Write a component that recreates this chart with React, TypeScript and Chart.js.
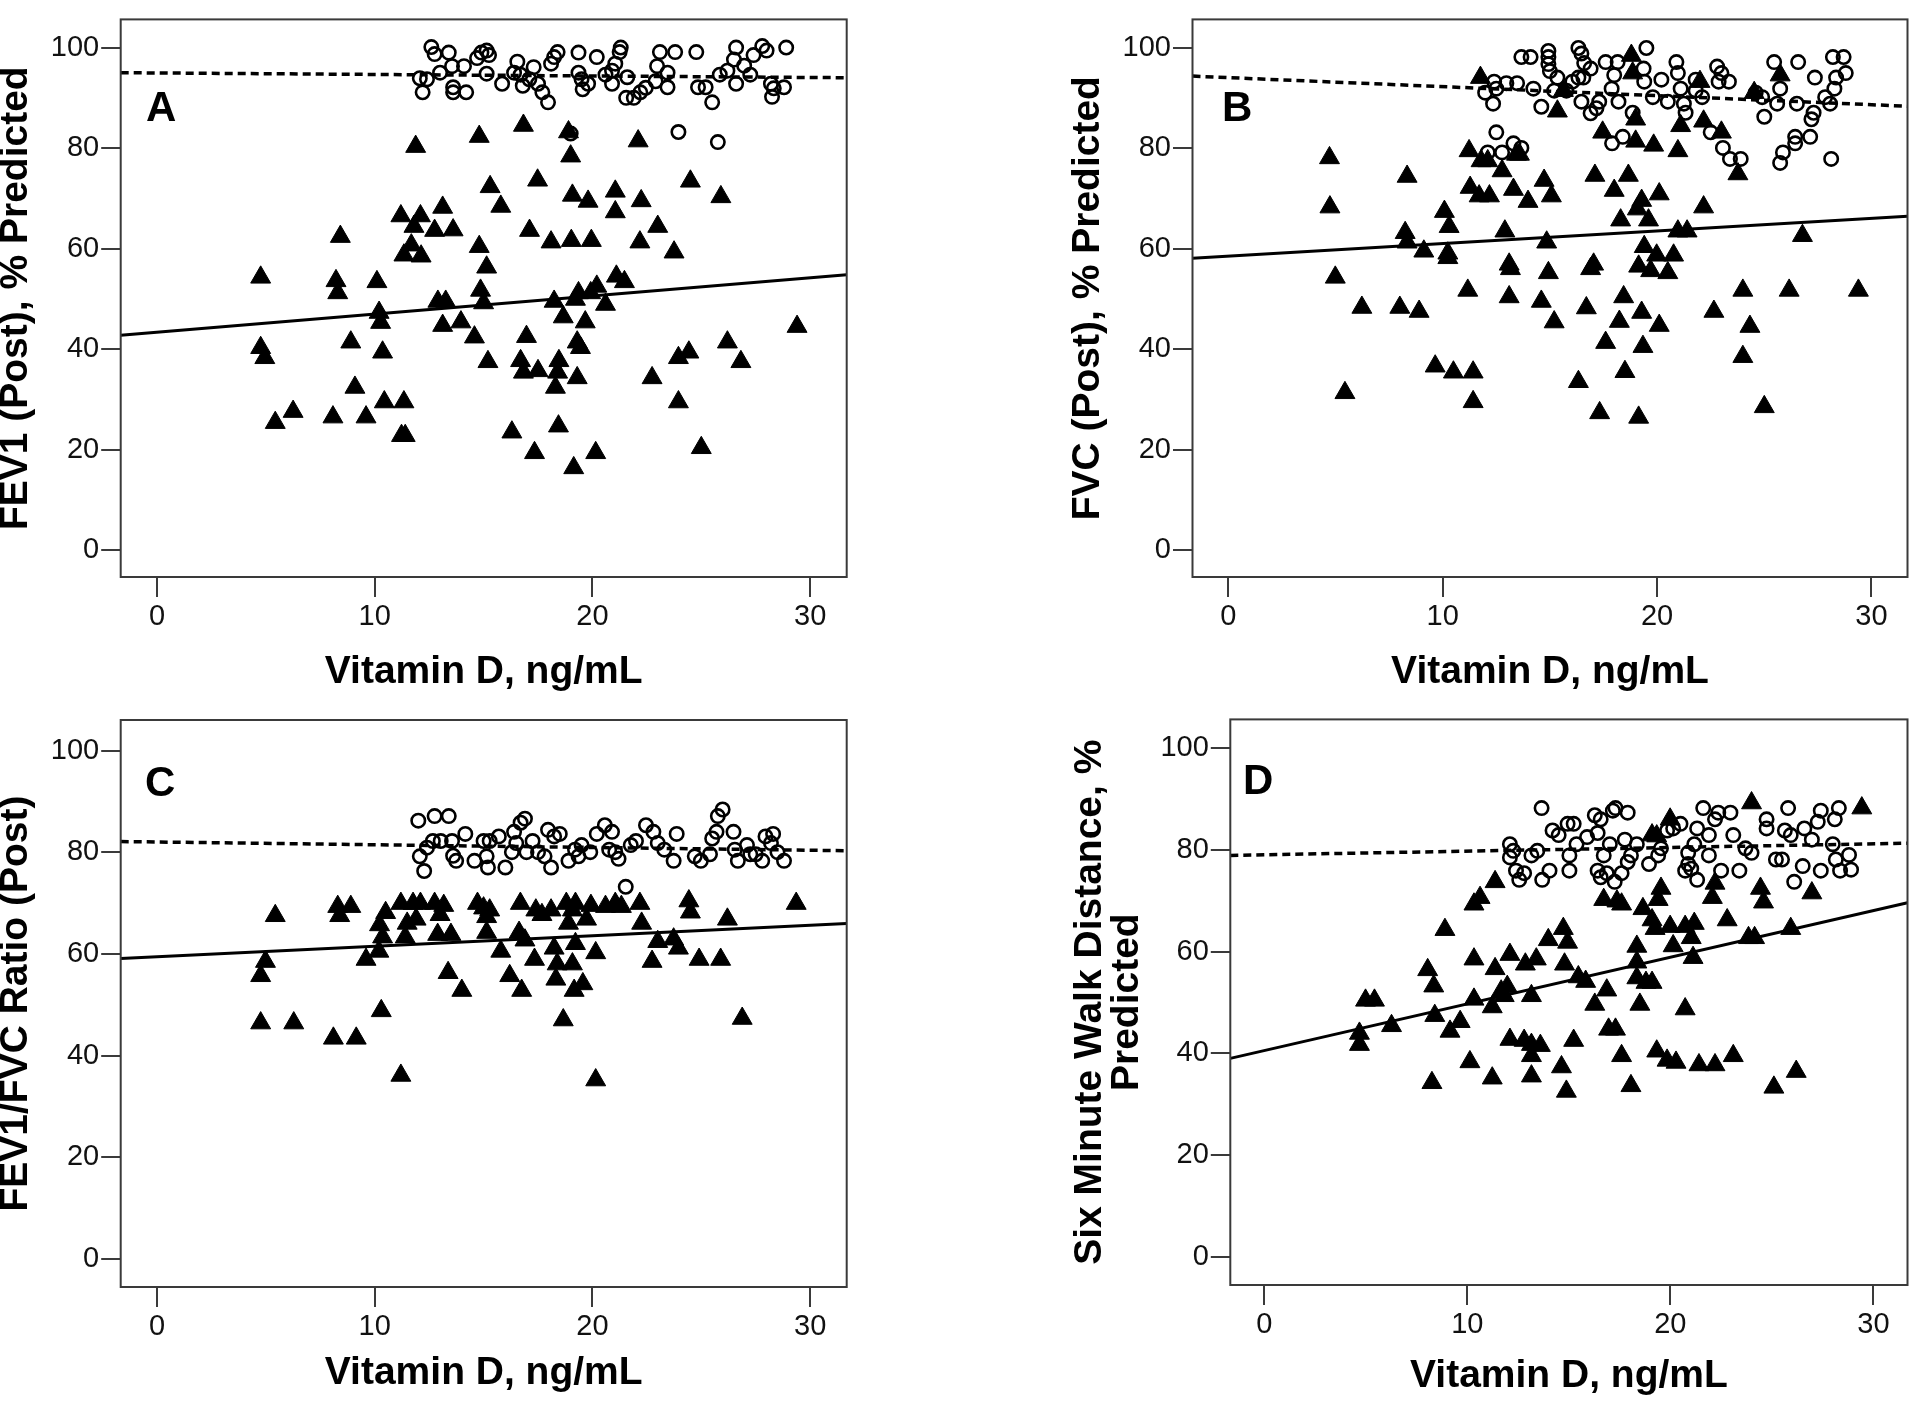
import React, { useEffect, useRef } from 'react';
import { Chart, registerables } from 'chart.js';

Chart.register(...registerables);

// ---------- shared axis data ----------
const xTicks = [0, 10, 20, 30];
const yTicks = [0, 20, 40, 60, 80, 100];
const xAxisTitle = 'Vitamin D, ng/mL';
const xRange = [-1.67, 31.68];

// ---------- Panel A: FEV1 ----------
const aYTitle = 'FEV1 (Post), % Predicted';
const aTriangles: [number, number][] = [
  [4.76, 54.3], [4.76, 40.3], [4.95, 38.3], [5.43, 25.4], [6.25, 27.6], [8.42, 62.4], [8.22, 53.6], [8.3, 51.2],
  [8.9, 41.4], [9.09, 32.4], [8.08, 26.5], [9.6, 26.5], [10.1, 53.4], [10.2, 47.3], [10.27, 45.3], [10.36, 39.4],
  [10.44, 29.5], [11.34, 29.5], [11.23, 22.8], [11.4, 22.8], [11.88, 80.3], [11.2, 66.5], [12.1, 66.5], [11.8, 64.4],
  [11.34, 58.7], [11.68, 60.7], [12.13, 58.5], [13.12, 68.2], [12.75, 63.6], [13.6, 63.7], [12.9, 49.5], [13.26, 49.5],
  [13.12, 44.7], [13.96, 45.4], [14.58, 42.4], [14.8, 60.4], [14.86, 51.7], [15.0, 49.2], [15.14, 56.3], [14.8, 82.3],
  [15.3, 72.3], [15.79, 68.4], [15.2, 37.5], [16.83, 84.5], [17.48, 73.6], [17.11, 63.6], [16.97, 42.5], [16.7, 37.7],
  [16.83, 35.4], [17.5, 35.7], [16.3, 23.5], [17.34, 19.4], [18.1, 61.3], [18.24, 49.5], [18.46, 37.7], [18.4, 35.4],
  [18.3, 32.4], [18.44, 24.7], [18.66, 46.4], [18.9, 83.2], [19.0, 78.4], [19.08, 70.6], [19.03, 61.6], [19.95, 61.6],
  [19.8, 69.4], [19.14, 16.4], [19.22, 49.9], [19.36, 51.2], [19.3, 41.4], [19.45, 40.3], [19.3, 34.3], [19.67, 45.4],
  [19.92, 51.2], [20.15, 19.4], [20.2, 52.5], [20.6, 48.9], [21.05, 71.4], [21.05, 67.3], [21.1, 54.5], [21.47, 53.4],
  [22.1, 81.4], [22.24, 69.5], [22.18, 61.3], [22.74, 34.3], [23.0, 64.4], [23.75, 59.3], [23.95, 38.3], [24.43, 39.4],
  [23.95, 29.5], [24.5, 73.4], [25.0, 20.4], [25.9, 70.3], [26.2, 41.4], [26.82, 37.5], [29.4, 44.5],
];
const aCircles: [number, number][] = [
  [12.6, 100.1], [12.75, 98.7], [13.4, 99], [13.0, 95], [12.07, 93.9], [12.2, 91.1], [12.4, 93.7], [13.6, 92.1],
  [13.6, 91.1], [14.2, 91.1], [13.55, 96.3], [14.1, 96.3], [14.7, 97.9], [14.9, 99], [15.14, 99.4], [15.25, 98.5],
  [15.14, 94.8], [15.85, 92.8], [16.4, 95], [16.55, 97.2], [16.7, 94.6], [16.8, 92.4], [17.1, 93.7], [17.3, 96.1],
  [17.5, 92.8], [17.7, 91.1], [17.96, 89.1], [18.1, 96.8], [18.24, 98.1], [18.4, 99.1], [19.36, 99], [19.36, 95],
  [19.5, 93.7], [19.55, 91.7], [19.8, 92.8], [20.2, 98.1], [20.6, 94.6], [20.9, 95.4], [21.05, 96.8], [21.25, 99.1],
  [21.3, 100], [20.9, 92.8], [21.6, 94.1], [21.55, 90.0], [21.9, 90.0], [22.2, 91.1], [22.45, 92], [22.9, 93.3],
  [23.1, 99.1], [22.97, 96.3], [23.45, 95], [23.45, 92.1], [23.8, 99.1], [23.95, 83.2], [24.77, 99.1], [24.85, 92.1],
  [25.2, 92.1], [25.5, 89.1], [25.76, 81.2], [25.85, 94.6], [26.2, 95.4], [26.5, 97.6], [26.6, 100], [26.6, 92.8],
  [26.97, 96.4], [27.25, 94.6], [27.4, 98.5], [27.8, 100.3], [28.0, 99.4], [28.2, 92.8], [28.25, 90.2], [28.33, 91.9],
  [28.8, 92.1], [28.9, 100], [19.0, 82.9],
];
const aSolidFit = [42.8, 54.8];
const aDashedFit = [95.0, 94.0];

// ---------- Panel B: FVC ----------
const bYTitle = 'FVC (Post), % Predicted';
const bTriangles: [number, number][] = [
  [4.72, 78.1], [4.74, 68.3], [4.99, 54.3], [5.44, 31.3], [6.23, 48.3], [8.0, 48.3], [8.34, 74.4], [8.25, 63.2],
  [8.34, 61.3], [8.9, 47.5], [9.12, 59.5], [9.65, 36.6], [10.08, 67.4], [10.3, 64.4], [10.24, 59.1], [10.24, 58.2],
  [10.5, 35.4], [11.17, 51.7], [11.42, 35.4], [11.42, 29.5], [11.23, 79.5], [11.28, 72.2], [11.7, 70.5], [11.79, 77.5],
  [12.1, 77.5], [12.18, 70.5], [12.77, 75.5], [12.9, 63.5], [13.1, 56.9], [13.16, 56.0], [13.1, 50.4], [13.3, 71.8],
  [13.44, 78.8], [13.58, 78.8], [13.98, 69.4], [11.76, 94.1], [14.73, 73.6], [15.07, 70.5], [14.85, 61.3], [14.93, 55.2],
  [15.2, 45.4], [14.6, 49.5], [15.35, 87.4], [15.63, 91.5], [16.33, 33.5], [16.7, 48.2], [16.9, 56.0], [17.04, 56.9],
  [17.1, 74.6], [17.32, 27.3], [17.6, 41.3], [17.46, 83.2], [18.0, 71.6], [18.3, 65.7], [18.24, 45.5], [18.44, 50.4],
  [18.5, 35.5], [18.66, 74.6], [18.8, 98.5], [19.0, 85.8], [19.0, 81.4], [18.86, 95.0], [19.08, 67.9], [19.28, 69.6],
  [19.14, 56.5], [19.28, 47.3], [19.34, 40.5], [19.14, 26.4], [19.4, 60.4], [19.6, 65.7], [19.7, 55.6], [19.98, 58.7],
  [19.84, 80.6], [20.1, 70.9], [20.1, 44.7], [20.5, 55.2], [20.77, 58.7], [20.97, 79.5], [21.1, 84.5], [20.97, 63.5],
  [21.4, 63.5], [22.17, 68.3], [22.17, 85.4], [22.0, 93.3], [23.0, 83.2], [22.65, 47.5], [23.77, 74.9], [24.0, 51.7],
  [24.0, 38.5], [24.33, 44.5], [24.53, 91.1], [25.0, 28.5], [25.74, 94.6], [26.16, 51.7], [26.78, 62.6], [29.39, 51.7],
];
const bCircles: [number, number][] = [
  [12.1, 79.2], [12.5, 83.2], [12.77, 79.2], [13.3, 81], [13.67, 80.1], [11.98, 91.1], [12.35, 88.9], [12.4, 93.3],
  [12.5, 91.9], [12.97, 93.0], [13.47, 93.0], [13.67, 98.2], [14.1, 98.2], [14.23, 91.9], [14.6, 88.3], [14.93, 99.4],
  [14.93, 98.2], [14.93, 96.8], [15.0, 95.4], [15.2, 91.5], [15.35, 94.1], [15.77, 91.5], [16.05, 93.3], [16.33, 100],
  [16.47, 98.9], [16.33, 94.1], [16.56, 94.1], [16.6, 97], [16.9, 95.9], [16.47, 89.3], [16.9, 87], [17.17, 88],
  [17.3, 89.3], [17.6, 97.2], [17.88, 91.9], [18.0, 94.6], [18.16, 97.2], [18.2, 89.3], [18.4, 82.3], [17.9, 81],
  [18.86, 87.1], [19.37, 95.9], [19.4, 93.3], [19.5, 100], [19.8, 90.2], [20.2, 93.7], [20.5, 89.3], [20.9, 97.2],
  [20.97, 95], [21.1, 91.9], [21.25, 88.9], [21.33, 87.1], [21.8, 93.7], [22.1, 90.2], [21.8, 91.5], [22.5, 83.2],
  [22.8, 96.3], [23.0, 95], [22.87, 93.3], [23.35, 93.3], [23.07, 80.1], [23.4, 77.9], [23.9, 77.9], [24.6, 91.1],
  [24.9, 90.2], [25.0, 86.3], [25.46, 97.2], [25.6, 88.9], [25.74, 77.1], [25.87, 79.2], [25.74, 91.9], [26.58, 97.2],
  [26.52, 88.9], [26.44, 82.3], [26.44, 81], [27.14, 82.3], [27.2, 85.8], [27.3, 87.1], [27.36, 94.1], [27.84, 90.2],
  [28.07, 88.9], [28.12, 77.9], [28.2, 98.2], [28.35, 94.1], [28.27, 91.9], [28.7, 98.2], [28.8, 95],
];
const bSolidFit = [58.1, 66.5];
const bDashedFit = [94.4, 88.4];

// ---------- Panel C: FEV1/FVC ----------
const cYTitle = 'FEV1/FVC Ratio (Post)';
const cTriangles: [number, number][] = [
  [4.76, 55.7], [4.98, 58.5], [4.76, 46.4], [5.43, 67.5], [6.28, 46.4], [8.1, 43.4], [8.3, 69.3], [8.39, 67.5],
  [8.9, 69.3], [9.15, 43.4], [9.6, 58.9], [10.19, 60.5], [10.22, 65.7], [10.36, 63.3], [10.5, 68.1], [10.3, 48.8],
  [11.2, 36.1], [11.2, 69.9], [11.49, 66.0], [11.4, 63.3], [11.76, 69.9], [12.1, 69.9], [11.9, 66.8], [12.75, 69.9],
  [13.0, 67.7], [13.17, 69.5], [12.89, 63.8], [13.5, 63.8], [13.37, 56.3], [14.0, 52.8], [14.72, 69.9], [15.0, 69.0],
  [15.14, 67.3], [15.28, 68.6], [15.14, 64.2], [15.79, 60.5], [16.2, 55.7], [16.69, 69.9], [16.63, 64.2], [16.9, 62.7],
  [16.75, 52.8], [17.34, 58.9], [17.4, 68.6], [17.68, 67.7], [18.1, 68.6], [18.24, 61.1], [18.38, 58.0], [18.32, 55.0],
  [18.66, 47.0], [18.8, 69.9], [19.22, 69.9], [19.08, 68.6], [18.9, 66.0], [19.22, 62.0], [19.08, 58.0], [19.16, 52.8],
  [19.56, 54.1], [19.73, 66.8], [19.93, 69.5], [20.15, 60.2], [20.15, 35.2], [20.6, 69.3], [21.05, 69.9], [21.33, 69.3],
  [22.18, 69.9], [22.26, 66.0], [22.74, 58.5], [23.0, 62.4], [23.73, 62.9], [23.95, 61.1], [24.43, 70.4], [24.5, 68.2],
  [24.9, 58.9], [25.89, 58.9], [26.2, 66.8], [26.88, 47.3], [29.36, 69.9],
];
const cCircles: [number, number][] = [
  [12.0, 86.2], [12.75, 87.1], [13.4, 87.1], [12.07, 79.2], [12.27, 76.3], [12.4, 80.9], [12.67, 82.2], [13.03, 82.2],
  [13.6, 79.3], [13.74, 78.3], [13.55, 82.2], [14.16, 83.6], [14.58, 78.3], [15.0, 82.2], [15.28, 82.2], [15.14, 79.2],
  [15.2, 77.0], [15.7, 83.1], [16.0, 77.0], [16.3, 80.0], [16.4, 84.0], [16.7, 85.8], [16.9, 86.6], [16.5, 81.8],
  [16.97, 80.0], [17.25, 82.2], [17.5, 80.0], [17.8, 79.2], [17.96, 84.4], [18.24, 83.1], [18.1, 77.0], [18.5, 83.6],
  [18.9, 78.3], [19.2, 80.5], [19.36, 79.2], [19.5, 81.4], [19.9, 80.0], [20.2, 83.6], [20.57, 85.3], [20.9, 84.0],
  [20.77, 80.5], [21.05, 80.0], [21.2, 78.7], [21.53, 73.2], [21.76, 81.4], [22.0, 82.2], [22.46, 85.3], [22.8, 84.0],
  [23.0, 81.8], [23.3, 80.5], [23.73, 78.3], [23.87, 83.6], [24.7, 79.2], [24.98, 78.3], [25.4, 79.6], [25.5, 82.7],
  [25.7, 84.0], [25.76, 87.1], [25.98, 88.4], [26.48, 84.0], [26.54, 80.5], [26.68, 78.3], [27.1, 81.4], [27.25, 79.6],
  [27.5, 79.6], [27.95, 83.1], [28.2, 81.8], [28.3, 83.6], [28.5, 80.0], [28.8, 78.3], [27.8, 78.3],
];
const cSolidFit = [59.1, 66.0];
const cDashedFit = [82.1, 80.3];

// ---------- Panel D: Six minute walk ----------
const dYTitle = ['Six Minute Walk Distance, %', 'Predicted'];
const dTriangles: [number, number][] = [
  [4.69, 43.9], [4.69, 41.7], [4.99, 50.4], [5.43, 50.4], [6.27, 45.4], [8.05, 56.4], [8.35, 53.2], [8.4, 47.4],
  [8.26, 34.2], [8.9, 64.3], [9.15, 44.3], [9.65, 46.2], [10.13, 38.3], [10.33, 50.6], [10.33, 58.5], [10.33, 69.3],
  [10.63, 70.6], [11.23, 35.1], [11.37, 73.7], [11.23, 49.1], [11.37, 56.6], [11.67, 52.2], [11.82, 51.3], [11.97, 53.1],
  [12.1, 59.4], [12.1, 42.7], [12.8, 42.5], [12.86, 57.5], [13.16, 51.3], [13.16, 41.7], [13.16, 39.5], [13.16, 35.5],
  [13.4, 58.5], [13.6, 41.5], [13.99, 62.3], [14.64, 37.3], [14.73, 64.5], [14.79, 57.5], [14.94, 61.8], [14.88, 32.5],
  [15.24, 42.5], [15.47, 55.0], [15.83, 54.1], [16.28, 49.6], [16.72, 70.2], [16.87, 52.4], [16.96, 44.7], [17.3, 44.7],
  [17.37, 69.9], [17.6, 69.3], [17.6, 39.5], [18.06, 33.6], [18.35, 61.0], [18.35, 57.9], [18.35, 54.8], [18.5, 49.6],
  [18.65, 68.4], [18.8, 53.9], [19.1, 53.9], [19.1, 66.2], [19.33, 40.4], [19.4, 70.2], [19.54, 72.4], [19.84, 38.6],
  [19.99, 86.0], [19.1, 82.9], [19.33, 82.7], [19.25, 64.5], [19.99, 64.9], [20.14, 61.1], [20.28, 38.2], [20.73, 48.7],
  [20.73, 64.9], [21.03, 62.7], [21.12, 58.8], [21.18, 65.5], [21.41, 37.7], [22.07, 70.6], [22.2, 73.4], [22.2, 37.7],
  [22.8, 66.2], [23.1, 39.5], [23.85, 62.7], [24.0, 89.2], [24.15, 62.7], [24.44, 72.4], [24.59, 69.7], [25.1, 33.3],
  [25.93, 64.5], [26.2, 36.4], [26.97, 71.5], [29.43, 88.2],
];
const dCircles: [number, number][] = [
  [12.1, 81.1], [12.27, 79.8], [12.1, 78.5], [12.4, 75.9], [12.56, 74.1], [12.8, 75.4], [13.16, 78.9], [13.45, 79.8],
  [13.66, 88.2], [13.69, 74.1], [14.05, 75.9], [14.2, 83.8], [14.5, 82.9], [14.94, 85.1], [15.24, 85.1], [15.38, 81.1],
  [15.03, 78.9], [15.03, 75.9], [15.9, 82.5], [16.28, 86.8], [16.42, 83.3], [16.57, 86.0], [16.42, 75.9], [16.57, 74.6],
  [16.72, 78.9], [16.87, 75.4], [17.02, 81.1], [17.17, 87.7], [17.3, 88.2], [17.26, 73.7], [17.6, 75.4], [17.9, 87.3],
  [17.76, 82.0], [17.9, 77.6], [18.06, 78.9], [18.35, 81.1], [18.95, 77.2], [19.4, 78.9], [19.54, 80.3], [19.84, 83.8],
  [20.14, 84.2], [20.5, 85.1], [20.88, 79.4], [20.88, 77.2], [21.03, 76.3], [21.18, 81.1], [21.32, 74.1], [21.32, 84.2],
  [21.62, 88.2], [21.9, 82.9], [21.9, 78.9], [22.2, 86.0], [22.36, 87.3], [22.5, 75.9], [22.96, 87.3], [23.1, 82.9],
  [23.4, 75.9], [23.7, 80.3], [24.0, 79.4], [24.74, 86.0], [24.74, 84.2], [25.2, 78.1], [25.5, 78.1], [25.64, 83.8],
  [25.8, 88.2], [25.93, 82.9], [26.1, 73.7], [26.52, 76.8], [26.6, 84.2], [26.97, 82.0], [27.26, 85.5], [27.41, 87.7],
  [27.41, 75.9], [28.0, 81.1], [28.1, 86.0], [28.3, 88.2], [28.15, 78.1], [28.36, 75.9], [28.8, 79.0], [28.9, 76.1],
  [20.73, 75.9],
];
const dSolidFit = [39.0, 69.6];
const dDashedFit = [78.9, 81.3];

// ---------- layout ----------
const FONT = "'Liberation Sans', Arial, Helvetica, sans-serif";

type PanelSpec = {
  letter: string;
  yTitle: string | string[];
  triangles: [number, number][];
  circles: [number, number][];
  solid: number[];
  dashed: number[];
  yRange: number[];
  canvas: { left: number; top: number; w: number; h: number };
  area: { l: number; t: number; r: number; b: number };
  yTitleLH: number;
  yTitlePad: number;
  xTitlePad: number;
  letterPos: { left: number; top: number };
};

const panels: PanelSpec[] = [
  {
    letter: 'A', yTitle: aYTitle, triangles: aTriangles, circles: aCircles, solid: aSolidFit, dashed: aDashedFit,
    yRange: [-5.3, 105.6],
    canvas: { left: 0, top: 0, w: 960, h: 700 }, area: { l: 120.7, t: 11, r: 846.7, b: 577 },
    yTitleLH: 0.77, yTitlePad: 1.5, xTitlePad: 12.5, letterPos: { left: 146, top: 86 },
  },
  {
    letter: 'B', yTitle: bYTitle, triangles: bTriangles, circles: bCircles, solid: bSolidFit, dashed: bDashedFit,
    yRange: [-5.4, 105.7],
    canvas: { left: 960, top: 0, w: 960, h: 700 }, area: { l: 232.5, t: 10.5, r: 958, b: 577 },
    yTitleLH: 0.77, yTitlePad: 113, xTitlePad: 12.5, letterPos: { left: 1222, top: 86 },
  },
  {
    letter: 'C', yTitle: cYTitle, triangles: cTriangles, circles: cCircles, solid: cSolidFit, dashed: cDashedFit,
    yRange: [-5.5, 106.0],
    canvas: { left: 0, top: 700, w: 960, h: 701 }, area: { l: 120.7, t: 20, r: 846.7, b: 587 },
    yTitleLH: 0.77, yTitlePad: 1.5, xTitlePad: 12.5, letterPos: { left: 145, top: 761 },
  },
  {
    letter: 'D', yTitle: dYTitle, triangles: dTriangles, circles: dCircles, solid: dSolidFit, dashed: dDashedFit,
    yRange: [-5.56, 105.64],
    canvas: { left: 960, top: 700, w: 960, h: 701 }, area: { l: 270.3, t: 19, r: 958.3, b: 585 },
    yTitleLH: 0.96, yTitlePad: 111.5, xTitlePad: 9.5, letterPos: { left: 1243, top: 759 },
  },
];

const boxPlugin = {
  id: 'plotBox',
  afterDraw(chart: any) {
    const { ctx, chartArea } = chart;
    const { left, top, right, bottom } = chartArea;
    ctx.save();
    ctx.strokeStyle = '#3a3a3a';
    ctx.lineWidth = 2;
    ctx.strokeRect(left, top, right - left, bottom - top);
    ctx.restore();
  },
};

function Panel({ spec }: { spec: PanelSpec }) {
  const ref = useRef<HTMLCanvasElement | null>(null);

  useEffect(() => {
    if (!ref.current) return;
    const { canvas, area } = spec;
    const chart = new Chart(ref.current, {
      type: 'scatter',
      data: {
        datasets: [
          {
            type: 'line',
            label: 'Fit (triangles)',
            data: [
              { x: xRange[0], y: spec.solid[0] },
              { x: xRange[1], y: spec.solid[1] },
            ],
            borderColor: '#000',
            borderWidth: 3,
            pointRadius: 0,
            fill: false,
            tension: 0,
          } as any,
          {
            type: 'line',
            label: 'Fit (circles)',
            data: [
              { x: xRange[0], y: spec.dashed[0] },
              { x: xRange[1], y: spec.dashed[1] },
            ],
            borderColor: '#000',
            borderWidth: 3.5,
            borderDash: [8, 5],
            pointRadius: 0,
            fill: false,
            tension: 0,
          } as any,
          {
            label: 'Triangles',
            data: spec.triangles.map(([x, y]) => ({ x, y })),
            pointStyle: 'triangle',
            pointRadius: 11.5,
            backgroundColor: '#000',
            borderColor: '#000',
            borderWidth: 1,
          },
          {
            label: 'Circles',
            data: spec.circles.map(([x, y]) => ({ x, y })),
            pointStyle: 'circle',
            pointRadius: 6.7,
            backgroundColor: 'rgba(0,0,0,0)',
            borderColor: '#000',
            borderWidth: 2.6,
          },
        ],
      },
      options: {
        animation: false,
        responsive: false,
        maintainAspectRatio: false,
        layout: { padding: { left: 0, top: area.t, right: canvas.w - area.r, bottom: 0 } },
        plugins: { legend: { display: false }, tooltip: { enabled: false }, title: { display: false } },
        scales: {
          x: {
            type: 'linear',
            position: 'bottom',
            min: xRange[0],
            max: xRange[1],
            afterBuildTicks: (s: any) => {
              s.ticks = xTicks.map((v) => ({ value: v }));
            },
            afterFit: (s: any) => {
              s.height = canvas.h - area.b;
            },
            grid: { drawOnChartArea: false, drawTicks: true, tickLength: 20, color: '#3a3a3a', lineWidth: 2 },
            border: { display: false },
            ticks: {
              font: { family: FONT, size: 29 },
              color: '#111',
              padding: 3,
              maxRotation: 0,
              autoSkip: false,
            },
            title: {
              display: true,
              text: xAxisTitle,
              color: '#000',
              font: { family: FONT, size: 39, weight: 'bold', lineHeight: 0.77 },
              padding: { top: 0, bottom: spec.xTitlePad },
            },
          },
          y: {
            type: 'linear',
            position: 'left',
            min: spec.yRange[0],
            max: spec.yRange[1],
            afterBuildTicks: (s: any) => {
              s.ticks = yTicks.map((v) => ({ value: v }));
            },
            afterFit: (s: any) => {
              s.width = area.l;
            },
            grid: { drawOnChartArea: false, drawTicks: true, tickLength: 19.5, color: '#3a3a3a', lineWidth: 2 },
            border: { display: false },
            ticks: {
              font: { family: FONT, size: 29 },
              color: '#111',
              padding: 2,
              autoSkip: false,
            },
            title: {
              display: true,
              text: spec.yTitle,
              color: '#000',
              font: { family: FONT, size: 39, weight: 'bold', lineHeight: spec.yTitleLH },
              padding: { top: spec.yTitlePad, bottom: 0 },
            },
          },
        },
      } as any,
      plugins: [boxPlugin],
    });
    return () => chart.destroy();
  }, [spec]);

  const { canvas } = spec;
  return (
    <>
      <canvas
        ref={ref}
        width={canvas.w}
        height={canvas.h}
        style={{ position: 'absolute', left: canvas.left, top: canvas.top, width: canvas.w, height: canvas.h }}
      />
      <div
        style={{
          position: 'absolute',
          left: spec.letterPos.left,
          top: spec.letterPos.top,
          fontFamily: FONT,
          fontWeight: 'bold',
          fontSize: 42,
          lineHeight: '42px',
          color: '#000',
        }}
      >
        {spec.letter}
      </div>
    </>
  );
}

export default function App() {
  return (
    <div
      style={{
        position: 'absolute',
        left: 0,
        top: 0,
        width: 1920,
        height: 1401,
        background: '#fff',
        overflow: 'hidden',
      }}
    >
      {panels.map((p) => (
        <Panel key={p.letter} spec={p} />
      ))}
    </div>
  );
}
